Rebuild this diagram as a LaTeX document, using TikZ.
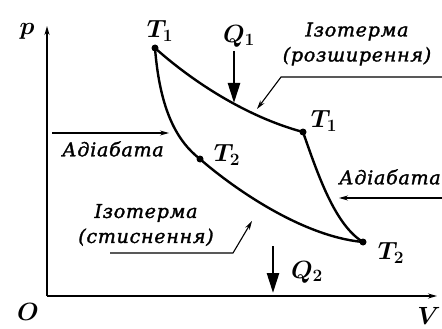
\documentclass[tikz,border=0pt]{standalone}
\usepackage{fontspec}
\newfontfamily\labfont[LetterSpace=4,ItalicFeatures={FakeBold=1.6}]{DejaVu Serif}
\usetikzlibrary{arrows.meta}
\begin{document}
\begin{tikzpicture}[x=1pt,y=-1pt,
  curve/.style={line width=2.4pt,line cap=round},
  axis/.style={line width=1.8pt,-{Stealth[length=9pt,width=5pt]}},
  heat/.style={line width=2.6pt,-{Triangle[length=20pt,width=12pt]}},
  ptr/.style={line width=1.1pt,-{Stealth[length=9pt,width=5pt]}},
  dotnode/.style={circle,fill,inner sep=0pt,minimum size=7pt},
  mlab/.style={inner sep=0pt,font=\fontsize{23}{26}\selectfont\boldmath},
  tlab/.style={inner sep=0pt,align=center,font=\labfont\itshape\fontsize{19}{25}\selectfont}]
\useasboundingbox (0,0) rectangle (442,329);
% axes
\coordinate (O) at (47,296);
\coordinate (ptop) at (47,26);
\coordinate (vend) at (437,296);
\draw[axis] (O) -- (ptop);
\draw[axis] (O) -- (vend);
\node[mlab] (plab) at (27,31) {$p$};
\node[mlab] (olab) at (28,312) {$O$};
\node[mlab] (vlab) at (429,316) {$V$};
% cycle points
\node[dotnode] (A) at (155,48) {};
\node[dotnode] (B) at (303,132) {};
\node[dotnode] (C) at (363,242) {};
\node[dotnode] (D) at (200,159) {};
\draw[curve] (A.center) .. controls (185,75) and (240,115) .. (B.center);
\draw[curve] (B.center) .. controls (318,175) and (335,225) .. (C.center);
\draw[curve] (A.center) .. controls (160,112) and (178,142) .. (D.center);
\draw[curve] (D.center) .. controls (226,182) and (298,236) .. (C.center);
\node[mlab] (t1a) at (160,31) {$T_1$};
\node[mlab] (t1b) at (324,121) {$T_1$};
\node[mlab] (t2a) at (227,155) {$T_2$};
\node[mlab] (t2b) at (391,253) {$T_2$};
% heat arrows
\coordinate (q1s) at (234,51);
\coordinate (q1e) at (234,103);
\draw[heat] (q1s) -- (q1e);
\node[mlab] (q1) at (239,36) {$Q_1$};
\coordinate (q2s) at (273,246);
\coordinate (q2e) at (273,293);
\draw[heat] (q2s) -- (q2e);
\node[mlab] (q2) at (307,272) {$Q_2$};
% labels
\node[tlab] (iso1) at (357,44) {Ізотерма\\(розширення)};
\coordinate (p1a) at (442,77);
\coordinate (p1b) at (281,77);
\coordinate (p1c) at (257,109);
\draw[ptr] (p1a) -- (p1b) -- (p1c);
\node[tlab] (iso2) at (146,225) {Ізотерма\\(стиснення)};
\coordinate (p2a) at (110,253);
\coordinate (p2b) at (233,253);
\coordinate (p2c) at (252,221);
\draw[ptr] (p2a) -- (p2b) -- (p2c);
\node[tlab] (ad1) at (113,149) {Адіабата};
\coordinate (a1s) at (52,133);
\coordinate (a1e) at (169,133);
\draw[ptr] (a1s) -- (a1e);
\node[tlab] (ad2) at (390,177) {Адіабата};
\coordinate (a2s) at (442,198);
\coordinate (a2e) at (339,198);
\draw[ptr] (a2s) -- (a2e);
\end{tikzpicture}
\end{document}
